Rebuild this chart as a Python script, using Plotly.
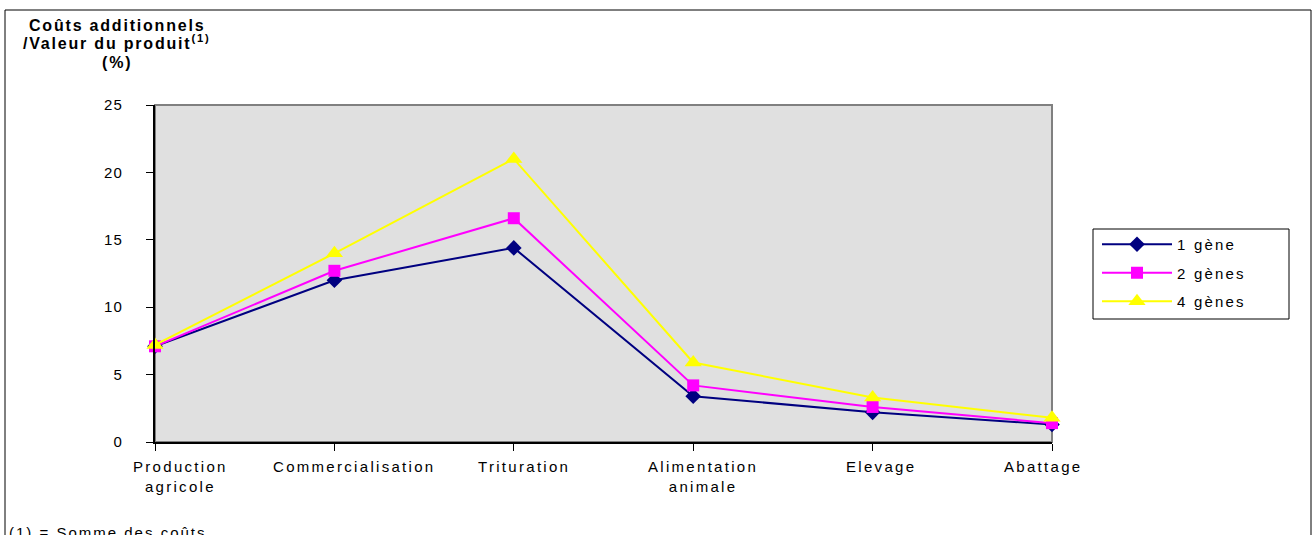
import plotly.graph_objects as go

# Stages of the chain and additional cost / product value (%)
stages = ["Production agricole", "Commercialisation", "Trituration",
          "Alimentation animale", "Elevage", "Abattage"]
stage_labels = ["Production<br>agricole", "Commercialisation", "Trituration",
                "Alimentation<br>animale", "Elevage", "Abattage"]
un_gene = [7.1, 12.0, 14.4, 3.4, 2.2, 1.3]
deux_genes = [7.1, 12.7, 16.6, 4.2, 2.6, 1.4]
quatre_genes = [7.2, 14.0, 21.0, 5.9, 3.3, 1.8]
y_ticks = [0, 5, 10, 15, 20, 25]

# horizontal offset of each category label relative to its tick (px)
label_shift = [25, 20, 10, 10, 8, -9]

FONT = "Liberation Sans, Arial, sans-serif"

# plot area in pixels
L, R, T, B = 155, 1052, 105, 442
W, H = R - L, B - T


def px_x(x):
    return (x - L) / W


def px_y(y):
    return (B - y) / H


def spaced(t, px=1.5):
    return f'<span style="letter-spacing:{px}px">{t}</span>'


series = [
    ("1 gène", un_gene, "#000080", "diamond", 12),
    ("2 gènes", deux_genes, "#FF00FF", "square", 12),
    ("4 gènes", quatre_genes, "#FFFF00", "triangle-up", 15),
]

fig = go.Figure()
for i, (name, vals, col, sym, size) in enumerate(series):
    fig.add_trace(go.Scatter(
        x=stages, y=vals, name=spaced(name, 2.2), mode="lines+markers",
        line=dict(color=col, width=2),
        marker=dict(symbol=sym, size=size, color=col, line=dict(width=0)),
        legendgroup=f"g{i}", cliponaxis=False,
    ))

fig.update_layout(
    width=1313, height=535,
    margin=dict(l=L, r=1313 - R, t=T, b=535 - B),
    paper_bgcolor="white", plot_bgcolor="#E0E0E0",
    font=dict(family=FONT, size=15, color="black"),
    showlegend=True,
    legend=dict(
        x=px_x(1097), y=px_y(228), xanchor="left", yanchor="top",
        borderwidth=0, bgcolor="rgba(0,0,0,0)",
        font=dict(size=15), itemwidth=70, tracegroupgap=6,
    ),
    xaxis=dict(
        type="category", range=[0, 5],
        tickvals=stages, showticklabels=False,
        showline=True, linecolor="black", linewidth=2,
        ticks="outside", ticklen=7, tickcolor="black", tickwidth=1,
        showgrid=False, zeroline=False,
    ),
    yaxis=dict(
        range=[0, 25], tickvals=y_ticks,
        ticktext=[spaced(str(v), 1.2) for v in y_ticks],
        showline=True, linecolor="black", linewidth=2,
        ticks="outside", ticklen=7, tickcolor="black", tickwidth=1,
        ticklabelstandoff=20,
        showgrid=False, zeroline=False, tickfont=dict(size=15),
    ),
)

# category labels below the axis
for cat, lab, dx in zip(stages, stage_labels, label_shift):
    fig.add_annotation(
        x=cat, xref="x", yref="paper", y=px_y(456), xshift=dx,
        xanchor="center", yanchor="top", showarrow=False, align="center",
        text=spaced(lab, 2.3), font=dict(size=15),
    )

# grey border around the plotting area (top / right)
fig.add_shape(type="rect", xref="paper", yref="paper", x0=0, x1=1, y0=0, y1=1,
              line=dict(color="#808080", width=2), layer="below")

# legend frame
fig.add_shape(type="rect", xref="paper", yref="paper",
              x0=px_x(1093), x1=px_x(1289), y0=px_y(319), y1=px_y(229),
              line=dict(color="black", width=1))

# outer frame of the figure
fig.add_shape(type="rect", xref="paper", yref="paper",
              x0=px_x(5), x1=px_x(1311), y0=px_y(560), y1=px_y(10),
              line=dict(color="black", width=1))

# axis title, one line at a time
title_lines = ["<b>Coûts additionnels</b>",
               "<b>/Valeur du produit<sup>(1)</sup></b>",
               "<b>(%)</b>"]
title_y = [25, 42, 63]
for line, yc in zip(title_lines, title_y):
    fig.add_annotation(
        xref="paper", yref="paper", x=px_x(117), y=px_y(yc),
        xanchor="center", yanchor="middle", showarrow=False,
        text=spaced(line, 1.8), font=dict(size=16),
    )

# footnote
fig.add_annotation(
    xref="paper", yref="paper", x=px_x(7), y=px_y(522),
    xanchor="left", yanchor="top", showarrow=False,
    text=spaced("(1) = Somme des coûts", 2.0), font=dict(size=15),
)

fig.write_html("out.html")
